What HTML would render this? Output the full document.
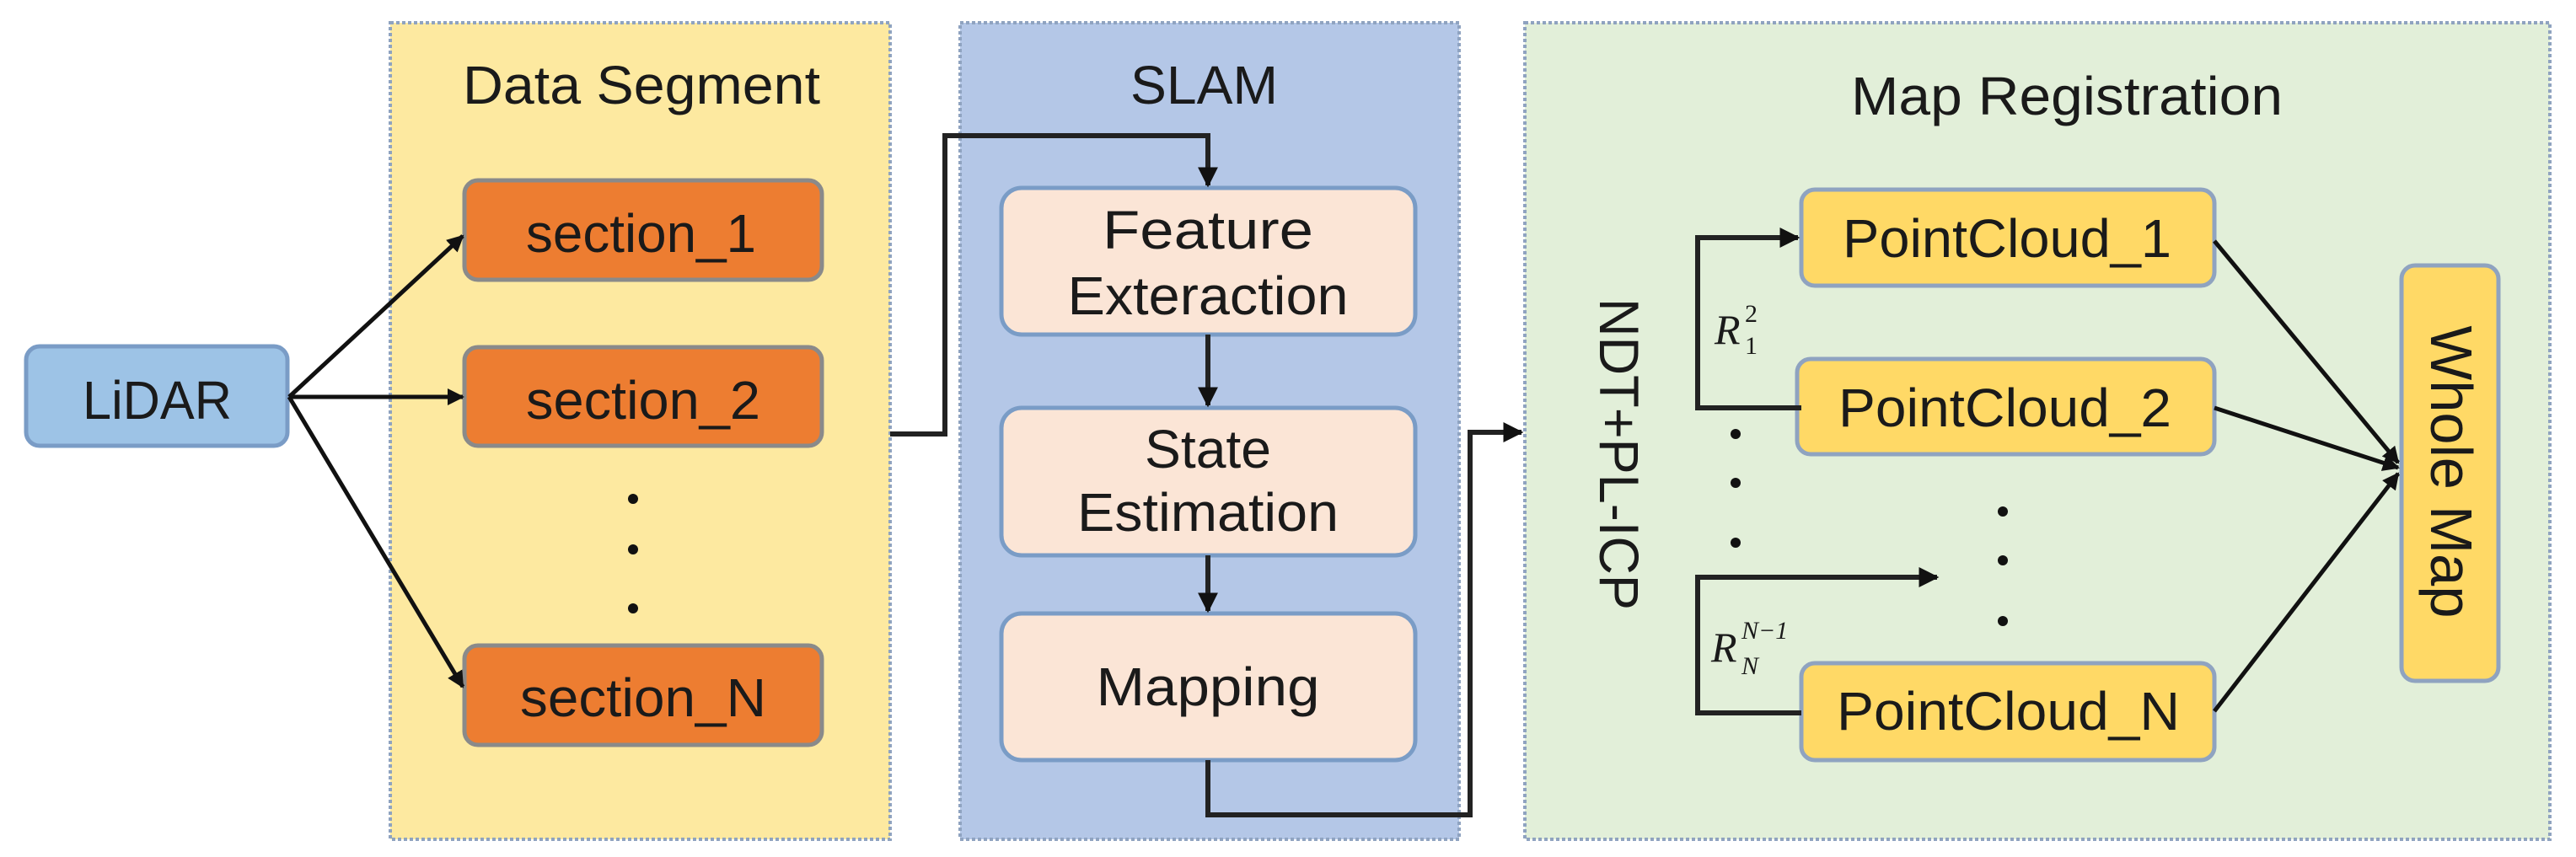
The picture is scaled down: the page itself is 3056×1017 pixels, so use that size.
<!DOCTYPE html>
<html><head><meta charset="utf-8"><style>
html,body{margin:0;padding:0;background:#fff;overflow:hidden;}
svg{display:block;}
text{font-family:"Liberation Sans",sans-serif;fill:#1a1a1a;}
</style></head><body>
<svg width="3056" height="1017" viewBox="0 0 3056 1017" xmlns="http://www.w3.org/2000/svg">
<defs>
<marker id="a" viewBox="0 0 10 10" refX="9" refY="5" markerWidth="4" markerHeight="4" orient="auto"><path d="M0,0 L10,5 L0,10 z" fill="#111"/></marker>
</defs>
<rect x="463" y="27" width="593" height="969" fill="#fde9a0" stroke="#8fa3c0" stroke-width="4" stroke-dasharray="4 3"/>
<rect x="1139" y="27" width="592" height="969" fill="#b4c7e7" stroke="#8fa3c0" stroke-width="4" stroke-dasharray="4 3"/>
<rect x="1809" y="27" width="1216" height="969" fill="#e2efd9" stroke="#8fa3c0" stroke-width="4" stroke-dasharray="4 3"/>

<text x="549" y="123" font-size="64" textLength="424" lengthAdjust="spacingAndGlyphs">Data Segment</text>
<text x="1341" y="123" font-size="64" textLength="175" lengthAdjust="spacingAndGlyphs">SLAM</text>
<text x="2196" y="136" font-size="64" textLength="512" lengthAdjust="spacingAndGlyphs">Map Registration</text>

<rect x="31" y="411" width="310" height="118" rx="16" fill="#9dc3e6" stroke="#7a9cc6" stroke-width="5"/>
<text x="98" y="497" font-size="64" textLength="177" lengthAdjust="spacingAndGlyphs">LiDAR</text>

<g fill="#ed7d31" stroke="#8a8a8a" stroke-width="5">
<rect x="551" y="214" width="424" height="118" rx="16"/>
<rect x="551" y="412" width="424" height="117" rx="16"/>
<rect x="551" y="766" width="424" height="118" rx="16"/>
</g>
<text x="624" y="299" font-size="64" textLength="273" lengthAdjust="spacingAndGlyphs">section_1</text>
<text x="624" y="497" font-size="64" textLength="278" lengthAdjust="spacingAndGlyphs">section_2</text>
<text x="617" y="850" font-size="64" textLength="292" lengthAdjust="spacingAndGlyphs">section_N</text>
<g fill="#111"><circle cx="751" cy="592" r="6"/><circle cx="751" cy="652" r="6"/><circle cx="751" cy="722" r="6"/></g>

<g stroke="#111" stroke-width="5" fill="none">
<line x1="343" y1="471" x2="549" y2="280" marker-end="url(#a)"/>
<line x1="343" y1="471" x2="549" y2="471" marker-end="url(#a)"/>
<line x1="343" y1="471" x2="549" y2="815" marker-end="url(#a)"/>
</g>

<g fill="#fbe5d6" stroke="#7a9cc6" stroke-width="5">
<rect x="1188" y="223" width="491" height="174" rx="24"/>
<rect x="1188" y="484" width="491" height="175" rx="24"/>
<rect x="1188" y="728" width="491" height="174" rx="24"/>
</g>
<text x="1433" y="295" font-size="64" text-anchor="middle" textLength="250" lengthAdjust="spacingAndGlyphs">Feature</text>
<text x="1433" y="373" font-size="64" text-anchor="middle" textLength="333" lengthAdjust="spacingAndGlyphs">Exteraction</text>
<text x="1433" y="555" font-size="64" text-anchor="middle" textLength="150" lengthAdjust="spacingAndGlyphs">State</text>
<text x="1433" y="630" font-size="64" text-anchor="middle" textLength="310" lengthAdjust="spacingAndGlyphs">Estimation</text>
<text x="1433" y="837" font-size="64" text-anchor="middle" textLength="265" lengthAdjust="spacingAndGlyphs">Mapping</text>

<g stroke="#222" stroke-width="6" fill="none">
<polyline points="1056,515 1121,515 1121,161 1433,161 1433,220" marker-end="url(#a)"/>
<line x1="1433" y1="397" x2="1433" y2="481" marker-end="url(#a)"/>
<line x1="1433" y1="659" x2="1433" y2="725" marker-end="url(#a)"/>
<polyline points="1433,902 1433,967 1744,967 1744,513 1805,513" marker-end="url(#a)"/>
</g>

<g fill="#ffd966" stroke="#8fa3c0" stroke-width="5">
<rect x="2137" y="225" width="490" height="114" rx="16"/>
<rect x="2132" y="426" width="495" height="113" rx="16"/>
<rect x="2137" y="787" width="490" height="115" rx="16"/>
<rect x="2849" y="315" width="115" height="493" rx="16"/>
</g>
<text x="2186" y="305" font-size="64" textLength="390" lengthAdjust="spacingAndGlyphs">PointCloud_1</text>
<text x="2181" y="506" font-size="64" textLength="395" lengthAdjust="spacingAndGlyphs">PointCloud_2</text>
<text x="2179" y="866" font-size="64" textLength="407" lengthAdjust="spacingAndGlyphs">PointCloud_N</text>
<text transform="translate(2884,560) rotate(90)" font-size="70" text-anchor="middle" textLength="347" lengthAdjust="spacingAndGlyphs">Whole Map</text>
<text transform="translate(1898,539) rotate(90)" font-size="66" text-anchor="middle" textLength="370" lengthAdjust="spacingAndGlyphs">NDT+PL-ICP</text>

<g stroke="#222" stroke-width="6" fill="none">
<polyline points="2137,484 2014,484 2014,282 2133,282" marker-end="url(#a)"/>
<polyline points="2137,846 2014,846 2014,685 2298,685" marker-end="url(#a)"/>
</g>
<g stroke="#111" stroke-width="5" fill="none">
<line x1="2627" y1="286" x2="2845" y2="549" marker-end="url(#a)"/>
<line x1="2627" y1="484" x2="2845" y2="555" marker-end="url(#a)"/>
<line x1="2627" y1="844" x2="2845" y2="562" marker-end="url(#a)"/>
</g>
<g fill="#111">
<circle cx="2059" cy="515" r="6"/><circle cx="2059" cy="573" r="6"/><circle cx="2059" cy="644" r="6"/>
<circle cx="2376" cy="607" r="6"/><circle cx="2376" cy="665" r="6"/><circle cx="2376" cy="737" r="6"/>
</g>
<text x="2034" y="408" font-size="50" font-style="italic" style="font-family:'Liberation Serif',serif">R</text>
<text x="2070" y="382" font-size="30" style="font-family:'Liberation Serif',serif">2</text>
<text x="2070" y="420" font-size="30" style="font-family:'Liberation Serif',serif">1</text>
<text x="2030" y="785" font-size="50" font-style="italic" style="font-family:'Liberation Serif',serif">R</text>
<text x="2066" y="758" font-size="30" font-style="italic" style="font-family:'Liberation Serif',serif">N−1</text>
<text x="2066" y="800" font-size="30" font-style="italic" style="font-family:'Liberation Serif',serif">N</text>
</svg>
</body></html>
